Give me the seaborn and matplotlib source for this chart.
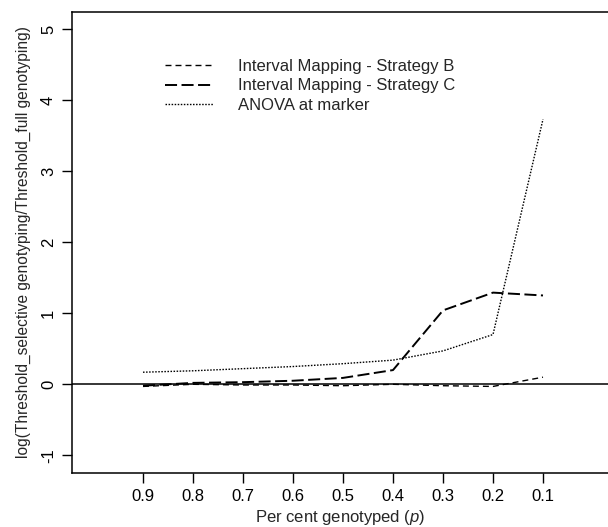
import matplotlib
matplotlib.use("Agg")
import matplotlib.pyplot as plt
import seaborn as sns
import pandas as pd

p_values = [0.9, 0.8, 0.7, 0.6, 0.5, 0.4, 0.3, 0.2, 0.1]
strategy_b = [-0.03, 0.00, -0.01, -0.01, -0.02, 0.00, -0.02, -0.03, 0.10]
strategy_c = [-0.02, 0.02, 0.03, 0.05, 0.09, 0.20, 1.04, 1.29, 1.25]
anova = [0.17, 0.19, 0.22, 0.25, 0.29, 0.34, 0.47, 0.70, 3.73]
x_ticks = [0.9, 0.8, 0.7, 0.6, 0.5, 0.4, 0.3, 0.2, 0.1]
y_ticks = [-1, 0, 1, 2, 3, 4, 5]
labels = ["Interval Mapping - Strategy B", "Interval Mapping - Strategy C", "ANOVA at marker"]

sns.set_style("white")
plt.rcParams["font.family"] = ["Liberation Sans", "DejaVu Sans"]
plt.rcParams["mathtext.fontset"] = "custom"
plt.rcParams["mathtext.it"] = "Liberation Sans:italic"
plt.rcParams["mathtext.rm"] = "Liberation Sans"

fig = plt.figure(figsize=(6.08, 5.27), dpi=100)
ax = fig.add_axes([72 / 608, 1 - 472.7 / 527, 1 - 72 / 608, (472.7 - 11.7) / 527])

df = pd.DataFrame({"p": p_values, "B": strategy_b, "C": strategy_c, "A": anova})

sns.lineplot(data=df, x="p", y="B", ax=ax, color="black", lw=1.0,
             linestyle=(0, (4.3, 2.9)), label=labels[0], sort=False)
sns.lineplot(data=df, x="p", y="C", ax=ax, color="black", lw=1.4,
             linestyle=(0, (6.2, 2.3)), label=labels[1], sort=False)
sns.lineplot(data=df, x="p", y="A", ax=ax, color="black", lw=1.0,
             linestyle=(0, (1.1, 1.1)), label=labels[2], sort=False)

ax.axhline(0, color="black", lw=1.1)

ax.set_xlim(1.042, -0.03)
ax.set_ylim(-1.244, 5.243)
ax.set_xticks(x_ticks)
ax.set_xticklabels([f"{v:.1f}" for v in x_ticks])
ax.set_yticks(y_ticks)
ax.set_yticklabels([str(v) for v in y_ticks], rotation=90, va="center")

for s in ["left", "top", "bottom"]:
    ax.spines[s].set_visible(True)
    ax.spines[s].set_color("black")
    ax.spines[s].set_linewidth(1.1)
ax.spines["right"].set_visible(False)

ax.tick_params(axis="both", which="major", direction="out", length=7.5, width=1.0,
               color="black", labelsize=12, labelcolor="black", pad=4,
               bottom=True, left=True)

ax.set_xlabel("Per cent genotyped ($\\it{p}$)", fontsize=12, labelpad=3)
ax.set_ylabel("log(Threshold_selective genotyping/Threshold_full genotyping)", fontsize=11.2, labelpad=7)

leg = ax.legend(loc="upper left", bbox_to_anchor=(0.1735, 0.897), frameon=False,
                fontsize=12, handlelength=2.9, handletextpad=1.5, labelspacing=0.25,
                borderpad=0, borderaxespad=0)

fig.savefig("out.png", dpi=100)
